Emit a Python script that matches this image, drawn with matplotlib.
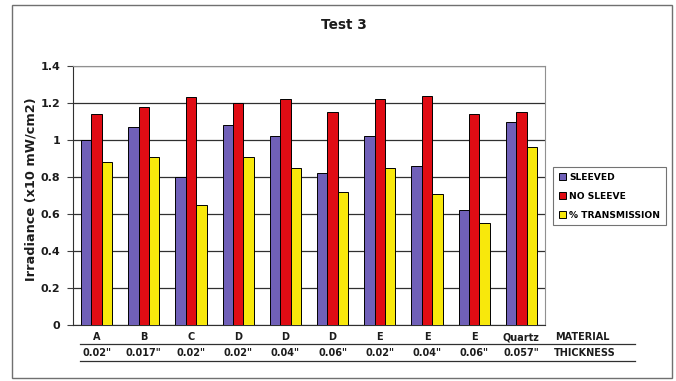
import numpy as np
import matplotlib
matplotlib.use("Agg")

import matplotlib.pyplot as plt
from matplotlib.patches import Rectangle

# ---------------- DATA ----------------
materials = ["A", "B", "C", "D", "D", "D", "E", "E", "E", "Quartz"]
thickness = ['0.02"', '0.017"', '0.02"', '0.02"', '0.04"', '0.06"',
             '0.02"', '0.04"', '0.06"', '0.057"']
sleeved = [1.00, 1.07, 0.80, 1.08, 1.02, 0.82, 1.02, 0.86, 0.62, 1.10]
no_sleeve = [1.14, 1.18, 1.23, 1.20, 1.22, 1.15, 1.22, 1.24, 1.14, 1.15]
transmission = [0.88, 0.91, 0.65, 0.91, 0.85, 0.72, 0.85, 0.71, 0.55, 0.96]

series_names = ["SLEEVED", "NO SLEEVE", "% TRANSMISSION"]
colors = ["#7060b8", "#e00c14", "#f8e80c"]
txt = "#1c1c1c"

W, H = 676, 381
fig = plt.figure(figsize=(W / 100, H / 100), dpi=100)
fig.patch.set_facecolor("white")

# outer chart frame
fig.patches.append(Rectangle((12 / W, 1 - 378 / H), 660 / W, 373 / H,
                             transform=fig.transFigure, fill=False,
                             edgecolor="#707070", linewidth=1.0))

ax = fig.add_axes([73 / W, 1 - 325 / H, 472 / W, 259 / H])

x = np.arange(len(materials))
bw = 0.22
for i, (vals, name, c) in enumerate(zip([sleeved, no_sleeve, transmission],
                                        series_names, colors)):
    ax.bar(x + (i - 1) * bw, vals, width=bw, color=c, edgecolor="black",
           linewidth=0.7, label=name, zorder=3)

ax.set_xlim(-0.5, len(materials) - 0.5)
ax.set_ylim(0, 1.4)
ax.set_yticks(np.arange(0, 1.41, 0.2))
ax.set_yticklabels(["0", "0.2", "0.4", "0.6", "0.8", "1", "1.2", "1.4"],
                   fontsize=8, fontweight="bold", color=txt)
ax.set_xticks([])
ax.tick_params(axis="y", length=4, width=0.8, color="#404040", pad=5)
ax.grid(axis="y", color="#303030", linewidth=0.9, zorder=0)

for s in ["top", "right"]:
    ax.spines[s].set_color("#909090")
    ax.spines[s].set_linewidth(0.8)
ax.spines["left"].set_color("#303030")
ax.spines["bottom"].set_color("#303030")

fig.text(31 / W, 1 - 189 / H, "Irradiance (x10 mW/cm2)", rotation=90,
         ha="center", va="center", fontsize=9.3, fontweight="bold", color=txt)

fig.text(344 / W, 1 - 25 / H, "Test 3", ha="center", va="center",
         fontsize=9.8, fontweight="bold", color=txt)

# ---------------- TABLE UNDER AXIS ----------------
trans = ax.get_xaxis_transform()
y_mat = -12 / 259
y_thk = -28 / 259
for xi, m, t in zip(x, materials, thickness):
    ax.text(xi, y_mat, m, transform=trans, ha="center", va="center",
            fontsize=7, fontweight="bold", color=txt)
    ax.text(xi, y_thk, t, transform=trans, ha="center", va="center",
            fontsize=7, fontweight="bold", color=txt)
fig.text(582 / W, 1 - 337 / H, "MATERIAL", ha="center", va="center",
         fontsize=7, fontweight="bold", color=txt)
fig.text(585 / W, 1 - 353 / H, "THICKNESS", ha="center", va="center",
         fontsize=7, fontweight="bold", color=txt)
for yl in (344, 361):
    fig.add_artist(plt.Line2D([80 / W, 635 / W], [1 - yl / H, 1 - yl / H],
                              transform=fig.transFigure, color="#303030",
                              linewidth=0.9))

# ---------------- LEGEND ----------------
leg = fig.legend(loc="upper left", bbox_to_anchor=(553 / W, 1 - 167 / H),
                 borderaxespad=0, frameon=True, fancybox=False,
                 handlelength=0.8, handleheight=0.8, handletextpad=0.35,
                 labelspacing=1.1, borderpad=0.6, edgecolor="#505050",
                 prop={"weight": "bold", "size": 6.6})
leg.get_frame().set_linewidth(0.8)

fig.savefig("out.png", dpi=100)
